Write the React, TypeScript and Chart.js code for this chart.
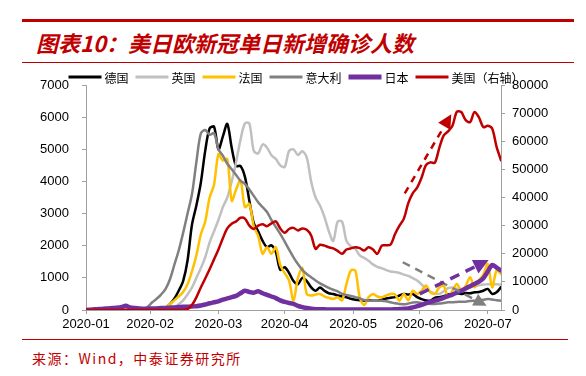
import React, { useEffect, useRef } from 'react';
import { Chart, registerables } from 'chart.js';

Chart.register(...registerables);

// x positions: day index counted from 2020-01-01 (every 2 days)
const DAYS = [
  0, 2, 4, 6, 8, 10, 12, 14, 16, 18, 20, 22, 24, 26, 28, 30, 32, 34, 36, 38,
  40, 42, 44, 46, 48, 50, 52, 54, 56, 58, 60, 62, 64, 66, 68, 70, 72, 74, 76, 78,
  80, 82, 84, 86, 88, 90, 92, 94, 96, 98, 100, 102, 104, 106, 108, 110, 112, 114, 116, 118,
  120, 122, 124, 126, 128, 130, 132, 134, 136, 138, 140, 142, 144, 146, 148, 150, 152, 154, 156, 158,
  160, 162, 164, 166, 168, 170, 172, 174, 176, 178, 180, 182, 184, 186, 188,
];

const TICK_DAYS = [0, 29, 60, 90, 121, 151, 182];
const TICK_LABELS = ['2020-01', '2020-02', '2020-03', '2020-04', '2020-05', '2020-06', '2020-07'];

// 德国
const DE = [
  0, 0, 0, 0, 0, 0, 0, 0, 0, 0, 0, 0, 0, 0, 0, 0, 0, 0,
  60, 180, 350, 600, 900, 1540, 2650, 3250, 3950, 4950, 5650, 5700, 5000, 5400, 5790, 5050, 4480, 4480, 4140, 3400, 2700, 2450,
  2150, 1955, 2010, 1800, 1250, 1330, 1150, 900, 800, 1000, 900, 706, 600, 700, 600, 520, 500, 450, 420, 395,
  350, 320, 300, 290, 300, 290, 290, 320, 360, 380, 400, 450, 500, 480, 500, 400, 340, 300, 290, 380,
  400, 430, 480, 500, 520, 500, 530, 520, 550, 560, 600, 655, 500, 550, 710,
];

// 英国
const GB = [
  0, 0, 0, 0, 0, 0, 0, 0, 0, 0, 0, 0, 0, 0, 0, 0, 0, 0, 0, 0,
  60, 180, 300, 480, 700, 1000, 1300, 1640, 2100, 2450, 2800, 3200, 3500, 4000, 4600, 5300, 5805, 5805, 4950, 4870,
  5150, 5050, 4815, 4700, 4500, 4450, 4950, 5000, 4820, 4940, 4750, 4000, 3500, 3250, 2900, 2450, 2150, 2750, 2750, 2150,
  1980, 1900, 1700, 1620, 1530, 1420, 1340, 1300, 1240, 1200, 1180, 1150, 1100, 1060, 990, 920, 800, 650, 570, 510,
  500, 580, 680, 700, 660, 650, 660, 700, 740, 770, 790, 800, 810, 800, 790,
];

// 法国
const FR = [
  0, 0, 0, 0, 0, 0, 0, 0, 0, 0, 0, 0, 0, 0, 0, 0, 0, 0,
  60, 180, 300, 420, 560, 800, 1200, 1700, 2350, 2750, 3500, 3900, 4850, 4650, 4700, 3400, 3750, 4035, 3200, 3300, 2600, 2300,
  1750, 1955, 1750, 1955, 1400, 1150, 915, 290, 1000, 1300, 500, 450, 480, 500, 420, 380, 340, 395, 300, 811,
  1227, 1227, 395, 150, 395, 500, 420, 395, 450, 500, 480, 290, 500, 300, 600, 500, 600, 760, 550, 500,
  700, 760, 400, 600, 810, 600, 750, 1018, 705, 914, 1100, 1435, 705, 1227, 1123,
];

// 意大利
const IT = [
  0, 0, 0, 0, 0, 0, 0, 0, 0, 0, 0, 0, 0,
  20, 100, 240, 350, 480, 650, 950, 1400, 1850, 2400, 3000, 3600, 4600, 5490, 5600, 5450, 5500, 5000, 4800, 4550, 4380, 4200, 4020, 3920,
  3750, 3550, 3350, 3200, 3050, 2800, 2580, 2370, 2130, 1880, 1640, 1430, 1250, 1120, 1020, 920, 830, 760, 690, 630,
  580, 500, 470, 440, 400, 360, 310, 290, 290, 290, 290, 270, 240, 210, 190, 180, 200, 230, 240, 220,
  200, 190, 190, 200, 220, 240, 240, 250, 260, 260, 280, 290, 300, 320, 340, 330, 300, 290,
];

// 日本
const JP = [
  0, 10, 20, 30, 40, 50, 60, 70, 90, 130, 80, 60, 50, 40, 40, 50, 50, 60, 60, 70,
  80, 90, 100, 100, 110, 120, 140, 170, 210, 240, 270, 320, 360, 400, 440, 520, 600, 560, 540, 580,
  520, 470, 420, 370, 300, 250, 220, 190, 130, 90, 60, 40, 25, 20, 20, 15, 15, 15, 15, 15,
  15, 15, 15, 15, 15, 15, 15, 15, 15, 15, 20, 30, 40, 50, 80, 120, 160, 210, 250, 290,
  330, 380, 430, 480, 540, 600, 670, 740, 810, 880, 990, 1200, 1400, 1320, 1230,
];

// 美国（右轴）
const US = [
  0, 0, 0, 0, 0, 0, 0, 0, 0, 0, 0, 0, 0, 0, 0, 0, 0, 0, 0, 0, 0, 0, 0,
  300, 1800, 4500, 8000, 11200, 14500, 18000, 21500, 25500, 29000, 30670, 31500, 32800, 32500, 30000, 28800, 30000, 30500,
  29800, 30800, 31500, 29000, 27500, 28800, 29200, 28300, 29000, 28500, 26500, 21750, 23200, 22900, 22300, 21900, 21000, 19970, 21500,
  21900, 22330, 22000, 21150, 22330, 21500, 19970, 22900, 23000, 23300, 27000, 30000, 32500, 38000, 41500, 43500, 47000, 51500, 52500, 52300,
  57500, 62000, 63500, 65500, 70500, 70400, 67500, 66800, 70400, 68500, 65000, 65500, 64500, 58000, 53240,
];

// dashed trend arrows (annotations), in axis units: [day, value]
const ARROWS = [
  { axis: 'y1', from: [144.4, 41470], to: [165.5, 69640], color: '#C00000', width: 2.5, dash: [7, 6], head: 14 },
  { axis: 'y', from: [143.5, 1486], to: [181.5, 134], color: '#808080', width: 2.5, dash: [8, 6], head: 13 },
  { axis: 'y', from: [151.2, 500], to: [182.4, 1554], color: '#7030A0', width: 3.5, dash: [10, 7], head: 15 },
];

const RED = '#C00000';
const AXIS_GRAY = '#A0A0A0';
const TICK_FONT = { family: '"Liberation Sans", Arial, sans-serif', size: 13 };

const legendPlugin = {
  id: 'customLegend',
  afterDraw(chart: any) {
    const ctx = chart.ctx;
    ctx.save();
    ctx.font = '12px "Noto Sans CJK SC", sans-serif';
    const items = chart.data.datasets.map((ds: any) => ({
      label: ds.label,
      color: ds.borderColor,
      w: ds.borderWidth > 4 ? 5 : 3,
    }));
    const lineLen = 33;
    const gap = 3;
    const spacing = 7;
    const widths = items.map((it: any) => lineLen + gap + ctx.measureText(it.label).width);
    const total = widths.reduce((a: number, b: number) => a + b, 0) + spacing * (items.length - 1);
    let x = 288 - total / 2;
    const y = 13;
    items.forEach((it: any, i: number) => {
      ctx.strokeStyle = it.color;
      ctx.lineWidth = it.w;
      ctx.lineCap = 'butt';
      ctx.beginPath();
      ctx.moveTo(x, y);
      ctx.lineTo(x + lineLen, y);
      ctx.stroke();
      ctx.fillStyle = '#000';
      ctx.textBaseline = 'middle';
      ctx.textAlign = 'left';
      ctx.fillText(it.label, x + lineLen + gap, y + 1);
      x += widths[i] + spacing;
    });
    ctx.restore();
  },
};

const arrowPlugin = {
  id: 'trendArrows',
  afterDatasetsDraw(chart: any) {
    const ctx = chart.ctx;
    const xs = chart.scales.x;
    ARROWS.forEach((a) => {
      const ys = chart.scales[a.axis];
      const x0 = xs.getPixelForValue(a.from[0]);
      const y0 = ys.getPixelForValue(a.from[1]);
      const x1 = xs.getPixelForValue(a.to[0]);
      const y1 = ys.getPixelForValue(a.to[1]);
      const dx = x1 - x0;
      const dy = y1 - y0;
      const len = Math.hypot(dx, dy);
      const ux = dx / len;
      const uy = dy / len;
      const bx = x1 - ux * a.head;
      const by = y1 - uy * a.head;
      const hw = a.head * 0.5;
      ctx.save();
      ctx.strokeStyle = a.color;
      ctx.lineWidth = a.width;
      ctx.setLineDash(a.dash);
      ctx.beginPath();
      ctx.moveTo(x0, y0);
      ctx.lineTo(bx, by);
      ctx.stroke();
      ctx.setLineDash([]);
      ctx.fillStyle = a.color;
      ctx.beginPath();
      ctx.moveTo(x1, y1);
      ctx.lineTo(bx - uy * hw, by + ux * hw);
      ctx.lineTo(bx + uy * hw, by - ux * hw);
      ctx.closePath();
      ctx.fill();
      ctx.restore();
    });
  },
};

function series(label: string, values: number[], color: string, width: number, axis: string, order: number) {
  return {
    label,
    data: DAYS.map((d, i) => ({ x: d, y: values[i] })),
    borderColor: color,
    backgroundColor: color,
    borderWidth: width,
    pointRadius: 0,
    tension: 0.3,
    borderJoinStyle: 'round' as const,
    borderCapStyle: 'round' as const,
    yAxisID: axis,
    order,
  };
}

const plainNumber = (v: any) => String(v);

export default function App() {
  const ref = useRef<HTMLCanvasElement | null>(null);

  useEffect(() => {
    if (!ref.current) return;
    const chart = new Chart(ref.current, {
      type: 'line',
      data: {
        datasets: [
          series('德国', DE, '#000000', 2.5, 'y', 5),
          series('英国', GB, '#C0C0C0', 2.5, 'y', 4),
          series('法国', FR, '#FFC000', 2.5, 'y', 3),
          series('意大利', IT, '#808080', 2.5, 'y', 2),
          series('日本', JP, '#7030A0', 4.5, 'y', 1),
          series('美国（右轴）', US, RED, 2.5, 'y1', 0),
        ],
      },
      options: {
        responsive: false,
        animation: false,
        events: [],
        layout: { padding: { top: 21, left: 0, right: 0, bottom: 0 } },
        plugins: {
          legend: { display: false },
          tooltip: { enabled: false },
        },
        scales: {
          x: {
            type: 'linear',
            min: 0,
            max: 188,
            afterFit: (s: any) => {
              s.height = 26;
            },
            afterBuildTicks: (s: any) => {
              s.ticks = TICK_DAYS.map((v) => ({ value: v }));
            },
            grid: { drawOnChartArea: false, drawTicks: true, tickLength: 4, color: AXIS_GRAY },
            border: { display: true, color: AXIS_GRAY, width: 1 },
            ticks: {
              autoSkip: false,
              maxRotation: 0,
              minRotation: 0,
              padding: 3,
              color: '#000',
              font: TICK_FONT,
              callback: (_v: any, i: number) => TICK_LABELS[i] ?? '',
            },
          },
          y: {
            position: 'left',
            min: 0,
            max: 7000,
            afterFit: (s: any) => {
              s.width = 78;
            },
            grid: { drawOnChartArea: false, drawTicks: true, tickLength: 4, color: AXIS_GRAY },
            border: { display: true, color: AXIS_GRAY, width: 1 },
            ticks: { stepSize: 1000, padding: 13, color: '#000', font: TICK_FONT, callback: plainNumber },
          },
          y1: {
            position: 'right',
            min: 0,
            max: 80000,
            afterFit: (s: any) => {
              s.width = 77;
            },
            grid: { drawOnChartArea: false, drawTicks: true, tickLength: 4, color: AXIS_GRAY },
            border: { display: true, color: AXIS_GRAY, width: 1 },
            ticks: { stepSize: 10000, padding: 7, color: '#000', font: TICK_FONT, callback: plainNumber },
          },
        },
      },
      plugins: [arrowPlugin, legendPlugin],
    } as any);
    return () => chart.destroy();
  }, []);

  return (
    <div style={{ position: 'relative', width: 570, height: 360, fontFamily: '"Noto Sans CJK SC", sans-serif' }}>
      <div style={{ position: 'absolute', left: 14, top: 11, width: 552, height: 3, background: RED }} />
      <div
        style={{
          position: 'absolute',
          left: 28,
          top: 22,
          fontSize: 22,
          lineHeight: '24px',
          fontWeight: 'bold',
          fontStyle: 'italic',
          color: RED,
          whiteSpace: 'nowrap',
        }}
      >
        图表10：美日欧新冠单日新增确诊人数
      </div>
      <div style={{ position: 'absolute', left: 14, top: 54, width: 552, height: 1, background: RED }} />
      <div style={{ position: 'absolute', left: 0, top: 56, width: 570, height: 272 }}>
        <canvas ref={ref} width={570} height={272} style={{ display: 'block', width: 570, height: 272 }} />
      </div>
      <div style={{ position: 'absolute', left: 14, top: 331, width: 546, height: 1, background: RED }} />
      <div
        style={{
          position: 'absolute',
          left: 24,
          top: 342,
          fontSize: 14,
          lineHeight: '16px',
          letterSpacing: '1.5px',
          color: RED,
          whiteSpace: 'nowrap',
        }}
      >
        来源：Wind，中泰证券研究所
      </div>
    </div>
  );
}
